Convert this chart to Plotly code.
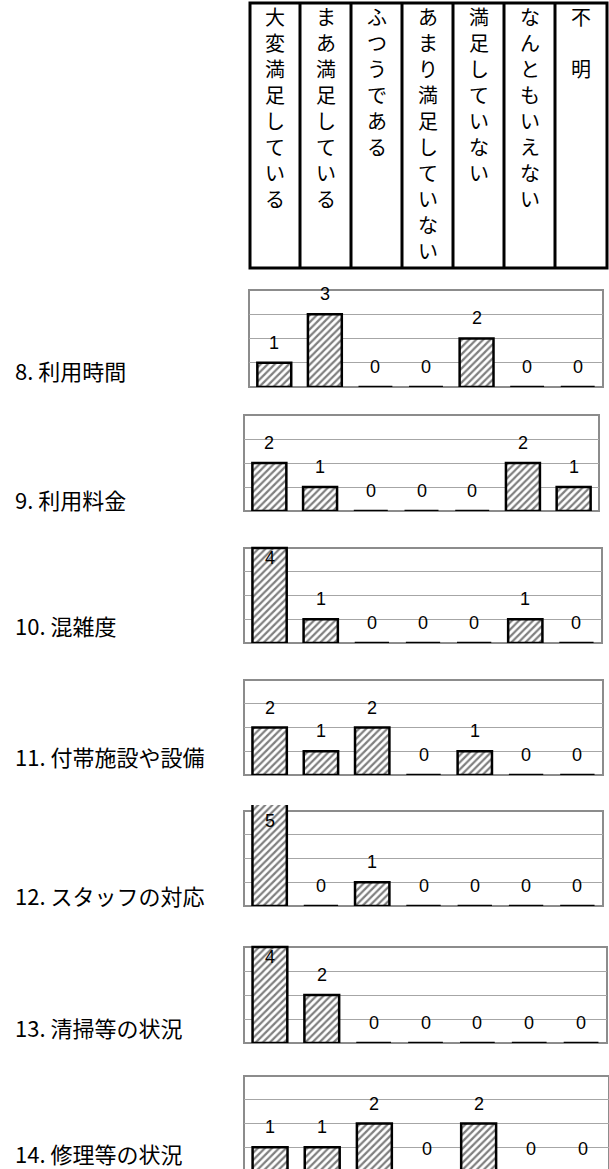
import plotly.graph_objects as go

W, H = 609, 1169

# answer choices (header columns, left to right)
categories = [
    "大変満足している",
    "まあ満足している",
    "ふつうである",
    "あまり満足していない",
    "満足していない",
    "なんともいえない",
    "不　明",
]

items = [
    "8. 利用時間",
    "9. 利用料金",
    "10. 混雑度",
    "11. 付帯施設や設備",
    "12. スタッフの対応",
    "13. 清掃等の状況",
    "14. 修理等の状況",
]

q8_counts = [1, 3, 0, 0, 2, 0, 0]
q9_counts = [2, 1, 0, 0, 0, 2, 1]
q10_counts = [4, 1, 0, 0, 0, 1, 0]
q11_counts = [2, 1, 2, 0, 1, 0, 0]
q12_counts = [5, 0, 1, 0, 0, 0, 0]
q13_counts = [4, 2, 0, 0, 0, 0, 0]
q14_counts = [1, 1, 2, 0, 2, 0, 0]

counts = [q8_counts, q9_counts, q10_counts, q11_counts, q12_counts, q13_counts, q14_counts]

# panel boxes in pixels: left, right, top, bottom (box spans 0..4)
boxes = [
    (249, 603, 290, 387),
    (244, 599, 415, 511),
    (244, 602, 548, 643),
    (244, 603, 680, 775),
    (244, 603, 811, 906),
    (244, 607, 947, 1043),
    (244, 609, 1076, 1171),
]
label_y = [370, 499, 625, 756, 895, 1027, 1153]

header_lines = [250, 300, 351, 402, 453, 504, 555, 607]
header_top, header_bottom = 3, 268

JP = "Noto Sans CJK JP"


def px_x(v):
    return v / W


def px_y(v):
    return 1 - v / H


fig = go.Figure()
annotations = []
shapes = []

for i, (vals, box) in enumerate(zip(counts, boxes)):
    n = "" if i == 0 else str(i + 1)
    left, right, top, bottom = box
    unit = (bottom - top) / 4
    dom_top = top - 0.25 * unit
    dom_bottom = min(bottom, H)
    y_lo = (bottom - dom_bottom) / unit

    fig.add_trace(
        go.Bar(
            x=list(range(len(categories))),
            y=vals,
            xaxis="x" + n,
            yaxis="y" + n,
            width=0.67,
            marker=dict(
                color="white",
                line=dict(color="black", width=2.5),
                pattern=dict(shape="/", fgcolor="black", bgcolor="white", size=5, solidity=0.45),
            ),
            hovertext=categories,
        )
    )
    fig.layout["xaxis" + n] = dict(
        domain=[px_x(left), px_x(right)],
        range=[-0.5, 6.5],
        visible=False,
        anchor="y" + n,
    )
    fig.layout["yaxis" + n] = dict(
        domain=[px_y(dom_bottom), px_y(dom_top)],
        range=[y_lo, 4.25],
        tickvals=[1, 2, 3],
        showticklabels=False,
        showgrid=True,
        gridcolor="#a6a6a6",
        gridwidth=1,
        zeroline=False,
        showline=False,
        anchor="x" + n,
    )
    shapes.append(
        dict(
            type="rect", xref="paper", yref="paper", layer="below",
            x0=px_x(left), x1=px_x(right), y0=px_y(bottom), y1=px_y(top),
            line=dict(color="#8c8c8c", width=2),
        )
    )
    for j, v in enumerate(vals):
        annotations.append(
            dict(
                xref="x" + n, yref="y" + n, x=j, y=max(min(v, 4), y_lo),
                text=str(v), showarrow=False, yanchor="middle",
                yshift=20 if v < 4 else -10,
                font=dict(family="Liberation Sans, Arial", size=18, color="black"),
            )
        )
    annotations.append(
        dict(
            xref="paper", yref="paper", x=px_x(13), y=px_y(label_y[i]),
            xanchor="left", yanchor="middle", text=items[i], showarrow=False,
            font=dict(family=JP, size=22, color="black"),
        )
    )

# header table
shapes.append(
    dict(
        type="rect", xref="paper", yref="paper", layer="above",
        x0=px_x(header_lines[0]), x1=px_x(header_lines[-1]),
        y0=px_y(header_bottom), y1=px_y(header_top),
        line=dict(color="black", width=3),
    )
)
for xl in header_lines[1:-1]:
    shapes.append(
        dict(
            type="line", xref="paper", yref="paper", layer="above",
            x0=px_x(xl), x1=px_x(xl), y0=px_y(header_bottom), y1=px_y(header_top),
            line=dict(color="black", width=3),
        )
    )
for k, cat in enumerate(categories):
    cx = (header_lines[k] + header_lines[k + 1]) / 2
    annotations.append(
        dict(
            xref="paper", yref="paper", x=px_x(cx), y=px_y(0),
            xanchor="center", yanchor="top", text="<br>".join(cat), showarrow=False,
            font=dict(family=JP, size=20, color="black"),
        )
    )

fig.update_layout(
    width=W,
    height=H,
    margin=dict(l=0, r=0, t=0, b=0),
    paper_bgcolor="white",
    plot_bgcolor="rgba(0,0,0,0)",
    showlegend=False,
    bargap=0.33,
    shapes=shapes,
    annotations=annotations,
)

fig.write_html(
    "out.html",
    config={"displayModeBar": False},
    post_script="document.body.style.margin='0';document.body.style.overflow='hidden';",
)
